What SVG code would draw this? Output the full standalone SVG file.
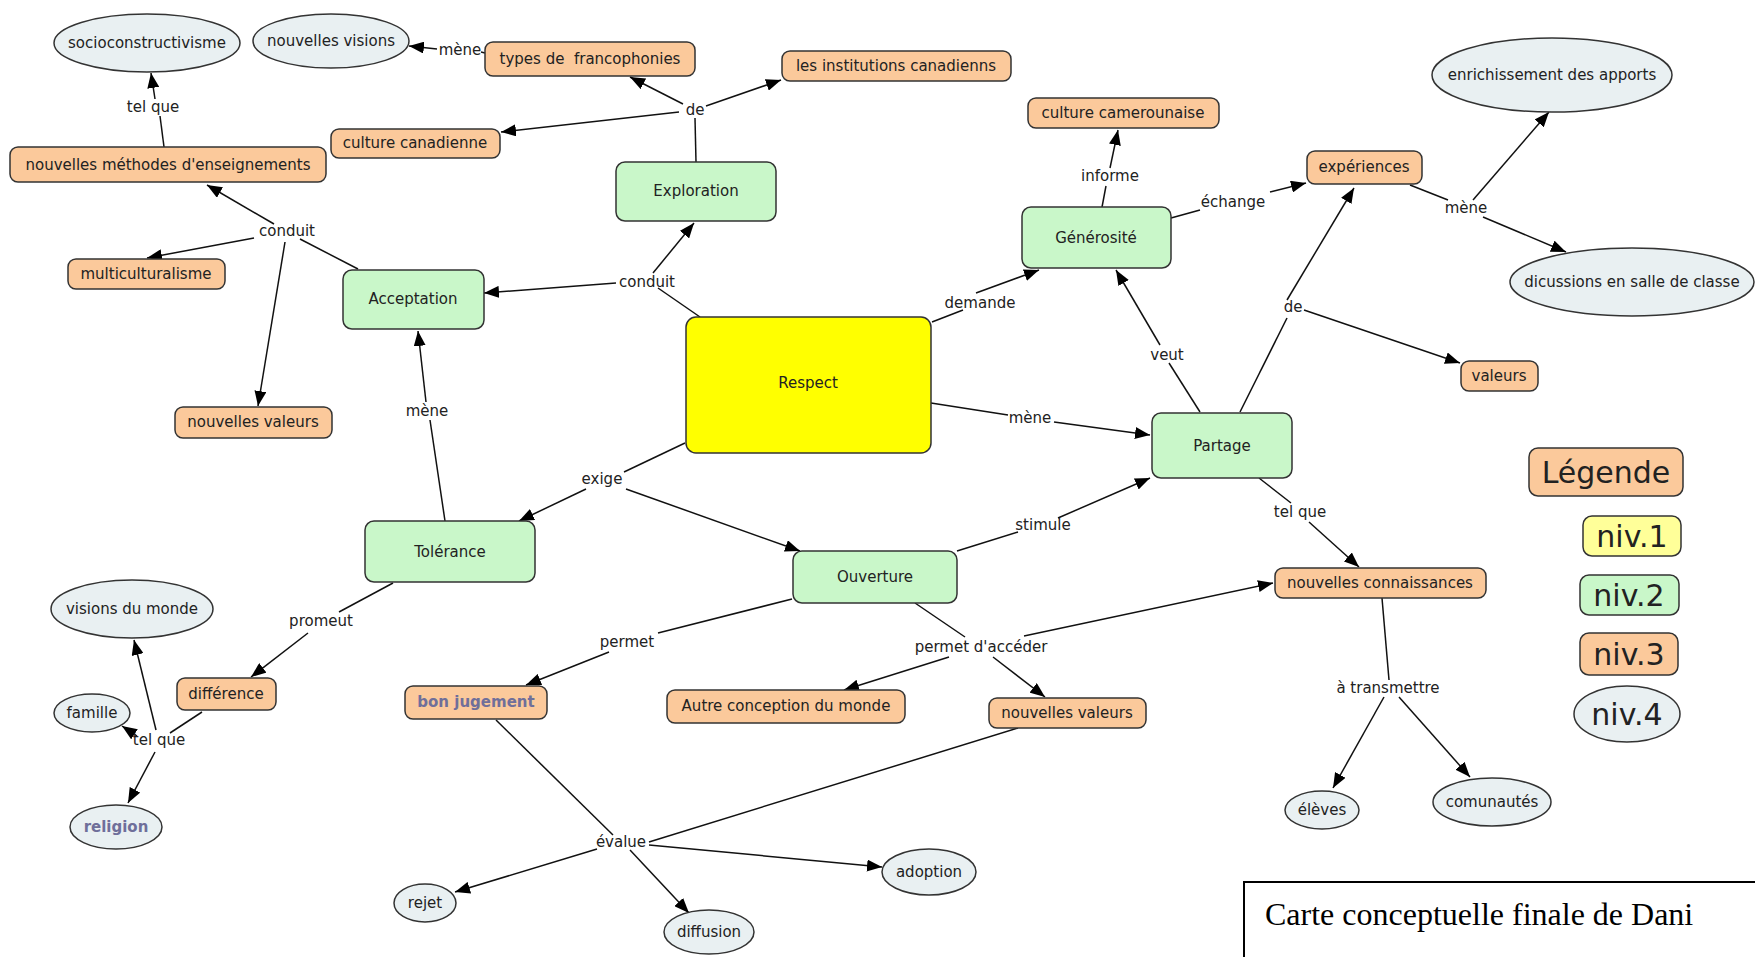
<svg xmlns="http://www.w3.org/2000/svg" width="1755" height="957" viewBox="0 0 1755 957">
<defs>
<marker id="ah" markerUnits="userSpaceOnUse" markerWidth="16" markerHeight="12" refX="15" refY="6" orient="auto"><path d="M0,0 L15,6 L0,12 z" fill="#000"/></marker>
<style>
.o{fill:#fbc99b;stroke:#333;stroke-width:1.5}
.g{fill:#c9f7c9;stroke:#333;stroke-width:1.5}
.y{fill:#ffff00;stroke:#333;stroke-width:1.5}
.e{fill:#e9f0f2;stroke:#333;stroke-width:1.5}
.t{font-family:"DejaVu Sans",Verdana,sans-serif;font-size:15px;fill:#222;text-anchor:middle}
.b{font-weight:bold;fill:#6f6f9a}
.big{font-size:30px}
.l{stroke:#111;stroke-width:1.5;fill:none}
.a{stroke:#111;stroke-width:1.5;fill:none;marker-end:url(#ah)}
</style>
</defs>
<rect width="1755" height="957" fill="#fff"/>
<g id="connectors">
<line class="l" x1="481" y1="52" x2="485" y2="53"/>
<line class="a" x1="437" y1="49" x2="409" y2="46"/>
<line class="l" x1="696" y1="162" x2="695" y2="118"/>
<line class="a" x1="683" y1="104" x2="630" y2="77"/>
<line class="a" x1="706" y1="106" x2="781" y2="80"/>
<line class="a" x1="679" y1="112" x2="501" y2="132"/>
<line class="l" x1="164" y1="147" x2="160" y2="116"/>
<line class="a" x1="155" y1="99" x2="151" y2="73"/>
<line class="l" x1="358" y1="269" x2="300" y2="239"/>
<line class="a" x1="274" y1="224" x2="207" y2="185"/>
<line class="a" x1="254" y1="238" x2="147" y2="258"/>
<line class="a" x1="285" y1="242" x2="258" y2="406"/>
<line class="l" x1="700" y1="317" x2="658" y2="288"/>
<line class="a" x1="616" y1="283" x2="484" y2="293"/>
<line class="a" x1="653" y1="273" x2="694" y2="223"/>
<line class="l" x1="932" y1="322" x2="963" y2="310"/>
<line class="a" x1="976" y1="293" x2="1039" y2="270"/>
<line class="l" x1="1102" y1="207" x2="1106" y2="186"/>
<line class="a" x1="1110" y1="168" x2="1118" y2="130"/>
<line class="l" x1="1171" y1="218" x2="1200" y2="210"/>
<line class="a" x1="1270" y1="192" x2="1306" y2="183"/>
<line class="l" x1="1410" y1="185" x2="1448" y2="200"/>
<line class="a" x1="1473" y1="200" x2="1549" y2="112"/>
<line class="a" x1="1483" y1="217" x2="1566" y2="252"/>
<line class="l" x1="1240" y1="412" x2="1287" y2="318"/>
<line class="a" x1="1287" y1="300" x2="1354" y2="188"/>
<line class="a" x1="1304" y1="310" x2="1460" y2="363"/>
<line class="l" x1="1200" y1="412" x2="1169" y2="363"/>
<line class="a" x1="1160" y1="345" x2="1116" y2="270"/>
<line class="l" x1="931" y1="403" x2="1008" y2="415"/>
<line class="a" x1="1054" y1="422" x2="1150" y2="435"/>
<line class="l" x1="685" y1="443" x2="624" y2="472"/>
<line class="a" x1="586" y1="489" x2="519" y2="521"/>
<line class="a" x1="626" y1="489" x2="800" y2="551"/>
<line class="l" x1="445" y1="521" x2="430" y2="420"/>
<line class="a" x1="426" y1="402" x2="418" y2="331"/>
<line class="l" x1="393" y1="583" x2="339" y2="612"/>
<line class="a" x1="308" y1="633" x2="251" y2="677"/>
<line class="l" x1="202" y1="712" x2="170" y2="733"/>
<line class="a" x1="156" y1="730" x2="134" y2="640"/>
<line class="a" x1="137" y1="736" x2="122" y2="726"/>
<line class="a" x1="155" y1="752" x2="128" y2="803"/>
<line class="l" x1="957" y1="551" x2="1018" y2="532"/>
<line class="a" x1="1058" y1="518" x2="1150" y2="478"/>
<line class="l" x1="792" y1="599" x2="658" y2="633"/>
<line class="a" x1="609" y1="652" x2="526" y2="685"/>
<line class="l" x1="915" y1="603" x2="965" y2="637"/>
<line class="a" x1="949" y1="657" x2="844" y2="690"/>
<line class="a" x1="993" y1="657" x2="1045" y2="697"/>
<line class="a" x1="1024" y1="636" x2="1273" y2="583"/>
<line class="l" x1="1259" y1="478" x2="1291" y2="503"/>
<line class="a" x1="1309" y1="522" x2="1359" y2="567"/>
<line class="l" x1="1382" y1="598" x2="1389" y2="680"/>
<line class="a" x1="1384" y1="697" x2="1333" y2="788"/>
<line class="a" x1="1399" y1="697" x2="1470" y2="777"/>
<line class="l" x1="496" y1="720" x2="613" y2="835"/>
<line class="l" x1="1018" y1="728" x2="649" y2="842"/>
<line class="a" x1="597" y1="849" x2="455" y2="892"/>
<line class="a" x1="649" y1="845" x2="882" y2="867"/>
<line class="a" x1="630" y1="850" x2="689" y2="913"/>
<g class="t">
<text x="460" y="55">mène</text>
<text x="695" y="115">de</text>
<text x="153" y="112">tel que</text>
<text x="287" y="236">conduit</text>
<text x="647" y="287">conduit</text>
<text x="980" y="308">demande</text>
<text x="1110" y="181">informe</text>
<text x="1233" y="207">échange</text>
<text x="1466" y="213">mène</text>
<text x="1293" y="312">de</text>
<text x="1167" y="360">veut</text>
<text x="1030" y="423">mène</text>
<text x="602" y="484">exige</text>
<text x="427" y="416">mène</text>
<text x="321" y="626">promeut</text>
<text x="159" y="745">tel que</text>
<text x="1043" y="530">stimule</text>
<text x="627" y="647">permet</text>
<text x="981" y="652">permet d'accéder</text>
<text x="1300" y="517">tel que</text>
<text x="1388" y="693">à transmettre</text>
<text x="621" y="847">évalue</text>
</g>
</g>
<g id="n-respect"><rect class="y" x="686" y="317" width="245" height="136" rx="10"/><text class="t" x="808" y="388">Respect</text></g>
<g id="n-exploration"><rect class="g" x="616" y="162" width="160" height="59" rx="9"/><text class="t" x="696" y="196">Exploration</text></g>
<g id="n-acceptation"><rect class="g" x="343" y="270" width="141" height="59" rx="9"/><text class="t" x="413" y="304">Acceptation</text></g>
<g id="n-generosite"><rect class="g" x="1022" y="207" width="149" height="61" rx="9"/><text class="t" x="1096" y="243">Générosité</text></g>
<g id="n-partage"><rect class="g" x="1152" y="413" width="140" height="65" rx="9"/><text class="t" x="1222" y="451">Partage</text></g>
<g id="n-tolerance"><rect class="g" x="365" y="521" width="170" height="61" rx="9"/><text class="t" x="450" y="557">Tolérance</text></g>
<g id="n-ouverture"><rect class="g" x="793" y="551" width="164" height="52" rx="9"/><text class="t" x="875" y="582">Ouverture</text></g>
<g id="n-types"><rect class="o" x="485" y="42" width="210" height="34" rx="8"/><text class="t" x="590" y="64" xml:space="preserve">types de  francophonies</text></g>
<g id="n-institutions"><rect class="o" x="782" y="51" width="229" height="30" rx="8"/><text class="t" x="896" y="71">les institutions canadienns</text></g>
<g id="n-culturecan"><rect class="o" x="331" y="129" width="169" height="29" rx="8"/><text class="t" x="415" y="148">culture canadienne</text></g>
<g id="n-methodes"><rect class="o" x="10" y="147" width="316" height="35" rx="8"/><text class="t" x="168" y="170">nouvelles méthodes d'enseignements</text></g>
<g id="n-multi"><rect class="o" x="68" y="259" width="157" height="30" rx="8"/><text class="t" x="146" y="279">multiculturalisme</text></g>
<g id="n-valeurs1"><rect class="o" x="175" y="407" width="157" height="31" rx="8"/><text class="t" x="253" y="427">nouvelles valeurs</text></g>
<g id="n-cultcam"><rect class="o" x="1028" y="98" width="191" height="30" rx="8"/><text class="t" x="1123" y="118">culture camerounaise</text></g>
<g id="n-experiences"><rect class="o" x="1307" y="151" width="115" height="33" rx="8"/><text class="t" x="1364" y="172">expériences</text></g>
<g id="n-valeurs"><rect class="o" x="1461" y="361" width="77" height="30" rx="8"/><text class="t" x="1499" y="381">valeurs</text></g>
<g id="n-connaissances"><rect class="o" x="1275" y="568" width="211" height="30" rx="8"/><text class="t" x="1380" y="588">nouvelles connaissances</text></g>
<g id="n-difference"><rect class="o" x="177" y="678" width="99" height="32" rx="8"/><text class="t" x="226" y="699">différence</text></g>
<g id="n-jugement"><rect class="o" x="405" y="686" width="142" height="33" rx="8"/><text class="t b" x="476" y="707">bon jugement</text></g>
<g id="n-autre"><rect class="o" x="667" y="690" width="238" height="33" rx="8"/><text class="t" x="786" y="711">Autre conception du monde</text></g>
<g id="n-valeurs2"><rect class="o" x="989" y="698" width="157" height="30" rx="8"/><text class="t" x="1067" y="718">nouvelles valeurs</text></g>
<g id="n-socio"><ellipse class="e" cx="147" cy="43" rx="93" ry="29"/><text class="t" x="147" y="48">socioconstructivisme</text></g>
<g id="n-visions"><ellipse class="e" cx="331" cy="41" rx="78" ry="27"/><text class="t" x="331" y="46">nouvelles visions</text></g>
<g id="n-enrich"><ellipse class="e" cx="1552" cy="75" rx="120" ry="37"/><text class="t" x="1552" y="80">enrichissement des apports</text></g>
<g id="n-dicussions"><ellipse class="e" cx="1632" cy="282" rx="122" ry="34"/><text class="t" x="1632" y="287">dicussions en salle de classe</text></g>
<g id="n-visionsmonde"><ellipse class="e" cx="132" cy="609" rx="81" ry="29"/><text class="t" x="132" y="614">visions du monde</text></g>
<g id="n-famille"><ellipse class="e" cx="92" cy="713" rx="38" ry="19"/><text class="t" x="92" y="718">famille</text></g>
<g id="n-religion"><ellipse class="e" cx="116" cy="827" rx="46" ry="22"/><text class="t b" x="116" y="832">religion</text></g>
<g id="n-rejet"><ellipse class="e" cx="425" cy="903" rx="31" ry="19"/><text class="t" x="425" y="908">rejet</text></g>
<g id="n-diffusion"><ellipse class="e" cx="709" cy="932" rx="45" ry="22"/><text class="t" x="709" y="937">diffusion</text></g>
<g id="n-adoption"><ellipse class="e" cx="929" cy="872" rx="47" ry="23"/><text class="t" x="929" y="877">adoption</text></g>
<g id="n-eleves"><ellipse class="e" cx="1322" cy="810" rx="37" ry="19"/><text class="t" x="1322" y="815">élèves</text></g>
<g id="n-comunautes"><ellipse class="e" cx="1492" cy="802" rx="59" ry="24"/><text class="t" x="1492" y="807">comunautés</text></g>
<g id="legend">
<rect class="o" x="1529" y="448" width="154" height="48" rx="9"/><text class="t big" x="1606" y="483">Légende</text>
<rect x="1583" y="516" width="98" height="40" rx="9" fill="#ffff99" stroke="#333" stroke-width="1.5"/><text class="t big" x="1632" y="547">niv.1</text>
<rect class="g" x="1580" y="575" width="99" height="40" rx="9"/><text class="t big" x="1629" y="606">niv.2</text>
<rect class="o" x="1580" y="633" width="98" height="42" rx="9"/><text class="t big" x="1629" y="665">niv.3</text>
<ellipse class="e" cx="1627" cy="714" rx="53" ry="28"/><text class="t big" x="1627" y="725">niv.4</text>
</g>
<g id="caption">
<rect x="1244" y="882" width="530" height="90" fill="#fff" stroke="#000" stroke-width="2"/>
<text x="1265" y="925" font-family="Liberation Serif,'Times New Roman',serif" font-size="32" fill="#000">Carte conceptuelle finale de Dani</text>
</g>
</svg>
